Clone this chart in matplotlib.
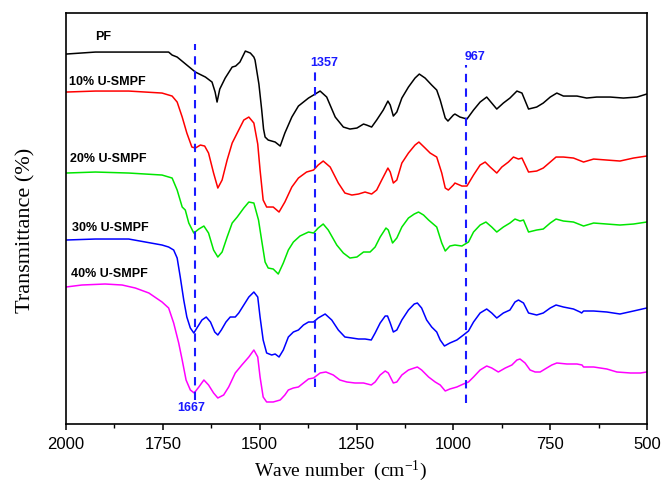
import matplotlib
matplotlib.use('Agg')
import matplotlib.pyplot as plt
from matplotlib.ticker import MultipleLocator

plt.rcParams['mathtext.default'] = 'regular'

# FTIR spectra (wavenumber in cm-1, transmittance in arbitrary offset units)
pf_wn = [2000, 1924, 1838, 1760, 1735, 1726, 1713, 1688, 1666, 1640, 1623, 1615, 1610, 1603, 1589,
         1571, 1562, 1551, 1537, 1524, 1515, 1512, 1502, 1495, 1490, 1486, 1478, 1460, 1447, 1435,
         1417, 1400, 1374, 1361, 1344, 1327, 1305, 1284, 1267, 1249, 1232, 1224, 1211, 1198, 1181,
         1169, 1163, 1155, 1146, 1133, 1116, 1099, 1088, 1073, 1056, 1043, 1034, 1021, 1014, 1000,
         996, 983, 965, 948, 931, 914, 901, 888, 871, 854, 836, 823, 806, 785, 768,
         750, 733, 716, 681, 656, 630, 595, 561, 526, 501]
pf_t = [37.0, 37.2, 37.2, 37.2, 37.2, 36.9, 36.7, 35.9, 35.2, 34.7, 34.2, 33.2, 32.2, 33.5, 34.6,
        35.7, 35.8, 36.2, 37.3, 37.1, 36.7, 36.4, 34.0, 31.5, 29.5, 28.7, 28.4, 28.2, 27.8, 29.1,
        30.7, 31.8, 32.6, 32.9, 33.3, 32.7, 30.7, 29.7, 29.5, 29.6, 30.0, 29.9, 29.7, 30.4, 31.4,
        32.3, 31.9, 30.8, 31.2, 32.6, 33.7, 34.6, 35.0, 34.6, 33.9, 33.4, 32.4, 30.6, 30.3, 30.9,
        31.0, 30.7, 30.5, 31.4, 32.2, 32.7, 32.1, 31.5, 32.1, 32.6, 33.3, 33.1, 31.5, 31.7, 32.1,
        32.7, 33.1, 32.8, 32.8, 32.6, 32.7, 32.7, 32.6, 32.7, 33.0]

u10_wn = [2000, 1924, 1838, 1752, 1726, 1713, 1700, 1688, 1675, 1666, 1653, 1642, 1632, 1619, 1608,
          1597, 1584, 1571, 1558, 1541, 1528, 1515, 1505, 1499, 1491, 1482, 1465, 1450, 1435, 1417,
          1400, 1379, 1361, 1349, 1336, 1318, 1297, 1280, 1262, 1245, 1228, 1211, 1198, 1185, 1169,
          1163, 1155, 1146, 1133, 1116, 1099, 1089, 1073, 1060, 1043, 1030, 1021, 1013, 1000, 996,
          978, 965, 948, 931, 918, 905, 888, 875, 858, 845, 832, 823, 806, 785, 768,
          750, 735, 716, 690, 664, 638, 604, 570, 535, 501]
u10_t = [33.2, 33.3, 33.3, 33.1, 32.8, 32.2, 30.7, 29.1, 27.7, 27.6, 27.9, 27.8, 27.1, 25.1, 23.6,
         24.4, 26.4, 28.1, 29.1, 30.4, 30.7, 30.1, 28.0, 25.4, 22.4, 21.7, 21.7, 21.2, 22.2, 23.7,
         24.6, 25.2, 25.4, 25.9, 26.3, 25.7, 24.1, 23.1, 22.9, 23.0, 23.2, 23.0, 23.4, 24.4, 25.6,
         25.2, 24.1, 24.4, 26.1, 27.1, 27.9, 28.2, 27.6, 27.1, 26.7, 25.1, 23.6, 23.4, 23.9, 24.1,
         23.8, 23.8, 24.9, 25.9, 26.2, 25.7, 25.1, 25.7, 26.2, 26.7, 26.5, 26.6, 25.2, 25.3, 25.6,
         26.2, 26.7, 26.7, 26.6, 26.2, 26.5, 26.4, 26.3, 26.6, 26.8]

u20_wn = [2000, 1924, 1838, 1752, 1726, 1713, 1700, 1692, 1683, 1670, 1657, 1644, 1632, 1619, 1608,
          1597, 1584, 1571, 1558, 1541, 1528, 1515, 1503, 1495, 1486, 1478, 1465, 1452, 1439, 1426,
          1413, 1396, 1374, 1361, 1349, 1336, 1323, 1301, 1284, 1267, 1249, 1232, 1215, 1202, 1189,
          1174, 1168, 1157, 1146, 1133, 1116, 1101, 1090, 1077, 1064, 1043, 1030, 1021, 1009, 996,
          978, 961, 948, 931, 916, 901, 888, 871, 854, 841, 828, 819, 806, 785, 768,
          750, 735, 716, 690, 664, 638, 604, 570, 535, 501]
u20_t = [25.1, 25.2, 25.1, 24.9, 24.6, 23.4, 21.7, 21.4, 20.1, 19.1, 19.5, 19.8, 19.1, 17.4, 16.7,
         17.2, 18.7, 20.1, 20.7, 21.6, 22.2, 22.1, 20.4, 18.4, 16.2, 15.6, 15.5, 15.0, 16.1, 17.4,
         18.2, 18.8, 19.2, 19.1, 19.6, 20.0, 19.4, 17.9, 17.1, 16.6, 16.7, 17.2, 17.2, 17.7, 18.7,
         19.6, 19.4, 18.1, 18.6, 19.7, 20.6, 21.0, 21.2, 20.9, 20.4, 19.7, 18.1, 17.3, 17.8, 17.9,
         17.8, 18.2, 19.2, 19.9, 20.2, 19.7, 19.2, 19.7, 20.1, 20.5, 20.3, 20.4, 19.2, 19.4, 19.5,
         20.1, 20.5, 20.3, 20.2, 19.8, 20.1, 20.0, 19.9, 20.0, 20.2]

u30_wn = [2000, 1924, 1838, 1795, 1752, 1735, 1722, 1713, 1705, 1696, 1688, 1679, 1670, 1662, 1649,
          1638, 1627, 1616, 1608, 1599, 1587, 1576, 1563, 1554, 1541, 1528, 1515, 1505, 1499, 1491,
          1482, 1469, 1460, 1450, 1439, 1426, 1413, 1400, 1387, 1374, 1361, 1349, 1331, 1314, 1297,
          1280, 1262, 1245, 1228, 1212, 1202, 1189, 1176, 1170, 1163, 1155, 1146, 1133, 1116, 1101,
          1093, 1082, 1069, 1056, 1043, 1034, 1023, 1009, 991, 974, 961, 948, 931, 914, 901,
          888, 871, 854, 841, 832, 819, 806, 785, 768, 750, 735, 716, 690, 673, 669,
          664, 638, 604, 570, 535, 501]
u30_t = [18.4, 18.5, 18.5, 18.2, 17.9, 17.7, 17.4, 16.6, 14.7, 12.4, 10.7, 9.6, 9.1, 9.6, 10.4,
         10.7, 10.2, 9.2, 8.9, 9.4, 10.2, 10.7, 10.7, 11.1, 11.9, 12.7, 13.2, 12.7, 10.7, 8.4,
         7.1, 6.9, 7.0, 6.7, 7.4, 8.7, 9.2, 9.4, 9.9, 10.2, 10.2, 10.6, 11.0, 10.4, 9.4,
         8.7, 8.6, 8.5, 8.5, 8.4, 9.1, 10.1, 10.8, 10.8, 10.1, 9.2, 9.4, 10.4, 11.4, 12.0,
         12.1, 11.6, 10.4, 9.7, 9.2, 8.4, 7.8, 8.1, 8.4, 8.9, 9.3, 10.2, 11.1, 11.5, 11.1,
         10.6, 11.1, 11.4, 12.2, 12.4, 12.1, 11.1, 10.9, 11.1, 11.6, 11.9, 11.7, 11.5, 11.2, 11.1,
         11.3, 11.3, 11.2, 11.0, 11.3, 11.6]

u40_wn = [2000, 1959, 1899, 1855, 1821, 1786, 1752, 1735, 1722, 1709, 1700, 1690, 1679, 1669, 1657,
          1644, 1632, 1619, 1608, 1593, 1580, 1563, 1546, 1528, 1515, 1505, 1499, 1491, 1482, 1465,
          1447, 1435, 1426, 1413, 1400, 1387, 1374, 1361, 1344, 1329, 1310, 1293, 1275, 1254, 1232,
          1212, 1202, 1189, 1176, 1168, 1155, 1146, 1133, 1116, 1101, 1093, 1082, 1064, 1047, 1034,
          1021, 1009, 991, 974, 961, 948, 931, 914, 901, 884, 866, 849, 836, 828, 815,
          802, 789, 776, 759, 746, 733, 707, 681, 668, 664, 638, 604, 578, 543, 517, 501]
u40_t = [13.7, 13.9, 14.0, 13.9, 13.6, 13.1, 12.2, 11.6, 10.1, 8.1, 6.4, 4.4, 3.4, 3.1, 3.7,
         4.4, 3.9, 3.1, 2.6, 2.9, 3.7, 5.1, 5.9, 6.7, 7.4, 6.7, 4.7, 2.7, 2.2, 2.2,
         2.4, 2.9, 3.4, 3.6, 3.7, 4.1, 4.5, 4.6, 5.1, 5.2, 4.9, 4.4, 4.2, 4.1, 4.1,
         3.9, 4.2, 4.9, 5.3, 5.1, 4.1, 4.2, 4.9, 5.4, 5.6, 5.7, 5.4, 4.7, 4.2, 3.9,
         3.3, 3.5, 3.7, 4.0, 4.2, 4.7, 5.4, 5.8, 5.6, 5.2, 5.6, 5.9, 6.4, 6.5, 6.1,
         5.4, 5.2, 5.2, 5.6, 5.9, 6.1, 6.0, 6.0, 5.9, 5.7, 5.7, 5.5, 5.2, 5.1, 5.1, 5.2]

sample_names = ['PF', '10% U-SMPF', '20% U-SMPF', '30% U-SMPF', '40% U-SMPF']
line_colors = ['black', '#ff0000', '#00e600', '#0000ff', '#ff00ff']
name_pos = [(1924, 38.7), (1993, 34.2), (1989, 26.5), (1985, 19.6), (1986, 15.0)]

# marked bands: position, dashed line span, label position
band_wn = [1667, 1357, 967]
band_span = [(2.4, 38.0), (3.7, 35.4), (2.1, 35.9)]
band_label_pos = [(1678, 1.6), (1334, 36.1), (944, 36.7)]

fig = plt.figure(figsize=(6.63, 4.84), dpi=100)
ax = fig.add_axes([0.0995, 0.124, 0.8765, 0.849])

spectra = [(pf_wn, pf_t), (u10_wn, u10_t), (u20_wn, u20_t), (u30_wn, u30_t), (u40_wn, u40_t)]
for (wn, t), name, col, pos in zip(spectra, sample_names, line_colors, name_pos):
    ax.plot(wn, t, color=col, lw=1.1, solid_joinstyle='round')
    ax.text(pos[0], pos[1], name, fontsize=9, fontweight='bold', family='Liberation Sans',
            ha='left', va='center')

for w, (y0, y1), (lx, ly) in zip(band_wn, band_span, band_label_pos):
    ax.plot([w, w], [y0, y1], color='#1a1aff', lw=1.5, ls=(0, (4, 3)))
    ax.text(lx, ly, str(w), color='#1a1aff', fontsize=9, fontweight='bold',
            family='Liberation Sans', ha='center', va='center')

ax.set_xlim(2000, 500)
ax.set_ylim(0, 41.1)
ax.xaxis.set_major_locator(MultipleLocator(250))
ax.xaxis.set_minor_locator(MultipleLocator(125))
ax.set_yticks([])
ax.tick_params(axis='x', which='major', direction='out', length=4.5, width=1.1, pad=5,
               labelsize=12)
ax.tick_params(axis='x', which='minor', direction='out', length=3, width=1.0)
for lbl in ax.get_xticklabels():
    lbl.set_family('Liberation Sans')
for sp in ax.spines.values():
    sp.set_linewidth(1.2)

ax.set_xlabel('Wave number  (cm$^{-1}$)', family='Liberation Serif', fontsize=14)
ax.set_ylabel('Transmittance (%)', family='Liberation Serif', fontsize=16)
ax.xaxis.set_label_coords(0.473, -0.085)
ax.yaxis.set_label_coords(-0.052, 0.47)

fig.savefig('out.png', dpi=100)
